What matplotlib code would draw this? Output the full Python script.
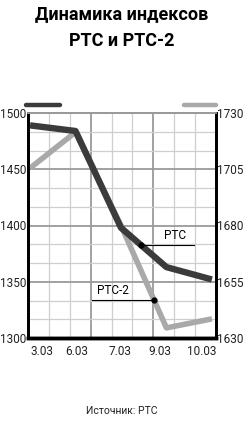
import numpy as np
import matplotlib
matplotlib.use("Agg")
import matplotlib.pyplot as plt

# data
dates = ["3.03", "6.03", "7.03", "9.03", "10.03"]
rts = [1489, 1484, 1398, 1363, 1352]           # left axis
rts2 = [1705.5, 1721.5, 1680, 1634.5, 1638.5]  # right axis
left_ticks = [1300, 1350, 1400, 1450, 1500]
right_ticks = [1630, 1655, 1680, 1705, 1730]

plt.rcParams["font.family"] = ["Roboto", "DejaVu Sans"]

dark = "#3b3b3b"
light = "#a9a9a9"

fig = plt.figure(figsize=(2.44, 4.33), dpi=100)
ax2 = fig.add_axes([28 / 244, 95 / 433, 188 / 244, 225 / 433])
ax = ax2.twinx()   # drawn on top: dark line over grey one
ax.yaxis.tick_left()
ax2.yaxis.tick_right()

x = np.arange(len(dates))
xlim = (-0.045, 4.09)
ax.set_xlim(*xlim)
ax.set_ylim(1300, 1500)
ax2.set_ylim(1630, 1730)

# grid on the bottom axes: 9 columns, 12 rows, every third line darker
xs = np.linspace(xlim[0], xlim[1], 10)
for i, gx in enumerate(xs[1:-1], start=1):
    major = i % 3 == 0
    ax2.axvline(gx, color="#9a9a9a" if major else "#cfcfcf",
                lw=1.3 if major else 0.9, zorder=1)
ys = np.linspace(1630, 1730, 13)
for i, gy in enumerate(ys[1:], start=1):
    major = i % 3 == 0
    ax2.axhline(gy, color="#9a9a9a" if major else "#cfcfcf",
                lw=1.3 if major else 0.9, zorder=1)

ax2.plot(x, rts2, color=light, lw=4.0, solid_capstyle="butt", zorder=3)
ax.plot(x, rts, color=dark, lw=4.6, solid_capstyle="butt", zorder=4)

# callouts
px = 2.44
py = np.interp(px, x, rts)
ax.plot([px, 3.6], [py, py], color="black", lw=0.8, zorder=5)
ax.plot(px, py, "o", color="black", ms=3.5, zorder=6)
ax.text(3.18, py + 3, "РТС", ha="center", va="bottom", fontsize=8.5)

qx = 2.73
qy = np.interp(qx, x, rts2)
qy_left = 1300 + (qy - 1630) * 2
ax.plot([1.37, qx], [qy_left, qy_left], color="black", lw=0.8, zorder=5)
ax.plot(qx, qy_left, "o", color="black", ms=3.5, zorder=6)
ax.text(1.83, qy_left + 3, "РТС-2", ha="center", va="bottom", fontsize=8.5)

ax2.set_xticks([0.26, 1.03, 1.98, 2.86, 3.78])
ax2.set_xticklabels(dates)
ax.set_yticks(left_ticks)
ax2.set_yticks(right_ticks)
for a in (ax, ax2):
    a.tick_params(length=0, labelsize=8.5, pad=1, colors="#222222")
ax2.tick_params(axis="x", pad=5)

for a in (ax, ax2):
    a.spines["top"].set_color("#9a9a9a")
    a.spines["top"].set_linewidth(1.3)
    a.spines["left"].set_linewidth(2)
    a.spines["right"].set_linewidth(2)
    a.spines["bottom"].set_linewidth(2.5)

# legend bars above the plot
ax.plot([-0.01, 0.17], [1.035, 1.035], transform=ax.transAxes, color=dark,
        lw=3.2, solid_capstyle="round", clip_on=False)
ax.plot([0.83, 1.0], [1.035, 1.035], transform=ax.transAxes, color=light,
        lw=3.2, solid_capstyle="round", clip_on=False)

fig.text(0.5, 1 - 14 / 433, "Динамика индексов", ha="center", va="center",
         fontsize=13, fontweight="bold")
fig.text(0.5, 1 - 41 / 433, "РТС и РТС-2", ha="center", va="center",
         fontsize=13, fontweight="bold")
fig.text(0.5, 1 - 411 / 433, "Источник: РТС", ha="center", va="center",
         fontsize=7.5, color="#222222")

fig.savefig("out.png", dpi=100)
